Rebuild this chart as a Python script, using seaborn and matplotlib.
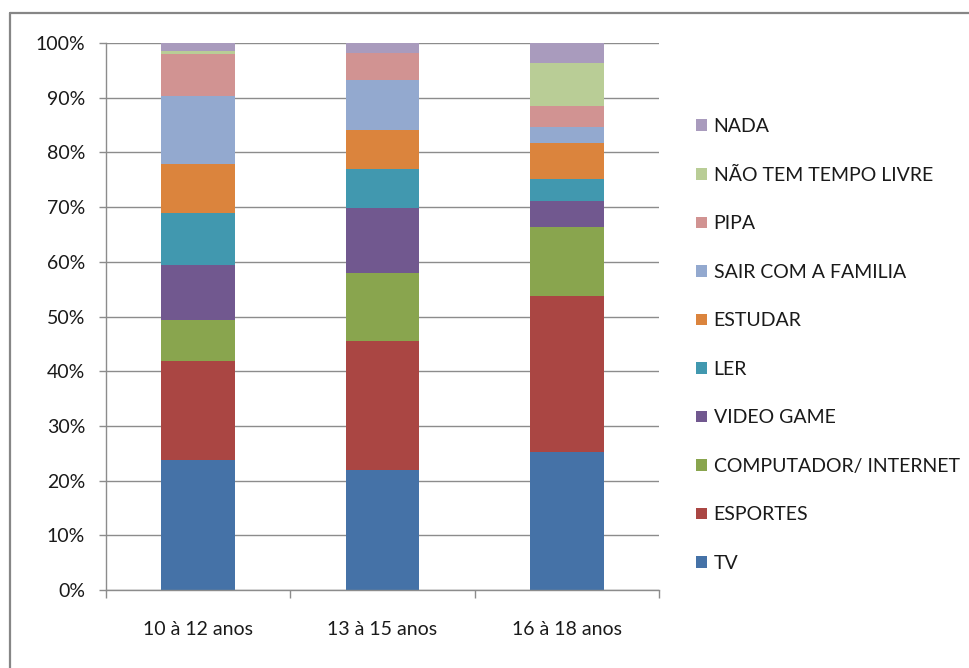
import matplotlib
matplotlib.use("Agg")
import matplotlib.pyplot as plt
from matplotlib.patches import Patch
from matplotlib.lines import Line2D
from matplotlib.ticker import FuncFormatter, FixedLocator
import seaborn as sns
import pandas as pd

# Age groups on the x axis
groups = ["10 à 12 anos", "13 à 15 anos", "16 à 18 anos"]

# Leisure activities, top of the stack first
activities = ["NADA", "NÃO TEM TEMPO LIVRE", "PIPA", "SAIR COM A FAMILIA",
              "ESTUDAR", "LER", "VIDEO GAME", "COMPUTADOR/ INTERNET",
              "ESPORTES", "TV"]

# Share of answers (%) per activity, one value per age group
nada = [1.4, 1.9, 3.7]
sem_tempo = [0.6, 0.0, 7.8]
pipa = [7.6, 4.9, 3.9]
sair_familia = [12.6, 9.1, 2.9]
estudar = [8.9, 7.2, 6.6]
ler = [9.5, 7.1, 3.9]
video_game = [10.0, 11.8, 4.8]
computador = [7.5, 12.4, 12.6]
esportes = [18.1, 23.7, 28.6]
tv = [23.8, 21.9, 25.2]

series = [nada, sem_tempo, pipa, sair_familia, estudar, ler,
          video_game, computador, esportes, tv]

colors = ["#A99BBD", "#B9CD96", "#D19392", "#93A9CF", "#DB843D",
          "#4198AF", "#71588F", "#89A54E", "#AA4643", "#4572A7"]

y_ticks = [0, 10, 20, 30, 40, 50, 60, 70, 80, 90, 100]

rows = []
for act, vals in zip(activities, series):
    for g, v in zip(groups, vals):
        rows.append({"faixa": g, "atividade": act, "pct": v})
df = pd.DataFrame(rows)
df["faixa"] = pd.Categorical(df["faixa"], categories=groups, ordered=True)

sns.set_theme(style="white")
plt.rcParams["font.family"] = ["Lato", "DejaVu Sans"]

W, H = 969, 668
fig = plt.figure(figsize=(W / 100, H / 100), dpi=100)
ax = fig.add_axes([106 / W, (H - 590) / H, (659 - 106) / W, (590 - 43) / H])

sns.histplot(
    data=df, x="faixa", weights="pct", hue="atividade",
    hue_order=activities, palette=colors, multiple="stack",
    discrete=True, shrink=0.4, linewidth=0, alpha=1,
    legend=False, ax=ax,
)

ax.set_ylim(0, 100)
ax.set_xlim(-0.5, 2.5)
ax.set_yticks(y_ticks)
ax.yaxis.set_major_formatter(FuncFormatter(lambda v, p: f"{int(round(v))}%"))
ax.set_xticks(range(len(groups)))
ax.set_xticklabels(groups)
ax.xaxis.set_minor_locator(FixedLocator([-0.5, 0.5, 1.5, 2.5]))
ax.set_xlabel("")
ax.set_ylabel("")

grid_c = "#8C8C8C"
ax.yaxis.grid(True, color=grid_c, linewidth=1.0)
ax.set_axisbelow(True)
for side in ["top", "right"]:
    ax.spines[side].set_visible(False)
for side in ["left", "bottom"]:
    ax.spines[side].set_color(grid_c)
    ax.spines[side].set_linewidth(1.0)

ax.tick_params(axis="y", which="major", left=True, length=5, width=1,
               color=grid_c, pad=10, labelsize=14, labelcolor="#1a1a1a")
ax.tick_params(axis="x", which="major", bottom=False, length=0, pad=22,
               labelsize=14, labelcolor="#1a1a1a")
ax.tick_params(axis="x", which="minor", bottom=True, length=6, width=1,
               color=grid_c)

handles = [Patch(facecolor=c, edgecolor="none", label=a)
           for a, c in zip(activities, colors)]
fig.legend(handles=handles, loc="center left",
           bbox_to_anchor=(696 / W, (H - 345) / H), frameon=False,
           fontsize=14, handlelength=0.55, handleheight=0.55,
           handletextpad=0.35, labelspacing=1.62, borderpad=0,
           borderaxespad=0, labelcolor="#1a1a1a")

# Chart frame
frame_c = "#868686"
fig.add_artist(Line2D([9.5 / W, 9.5 / W], [0, (H - 13) / H],
                      transform=fig.transFigure, color=frame_c, linewidth=1.6))
fig.add_artist(Line2D([9.5 / W, 1.0], [(H - 13) / H, (H - 13) / H],
                      transform=fig.transFigure, color=frame_c, linewidth=1.6))

fig.savefig("out.png", dpi=100, facecolor="white")
